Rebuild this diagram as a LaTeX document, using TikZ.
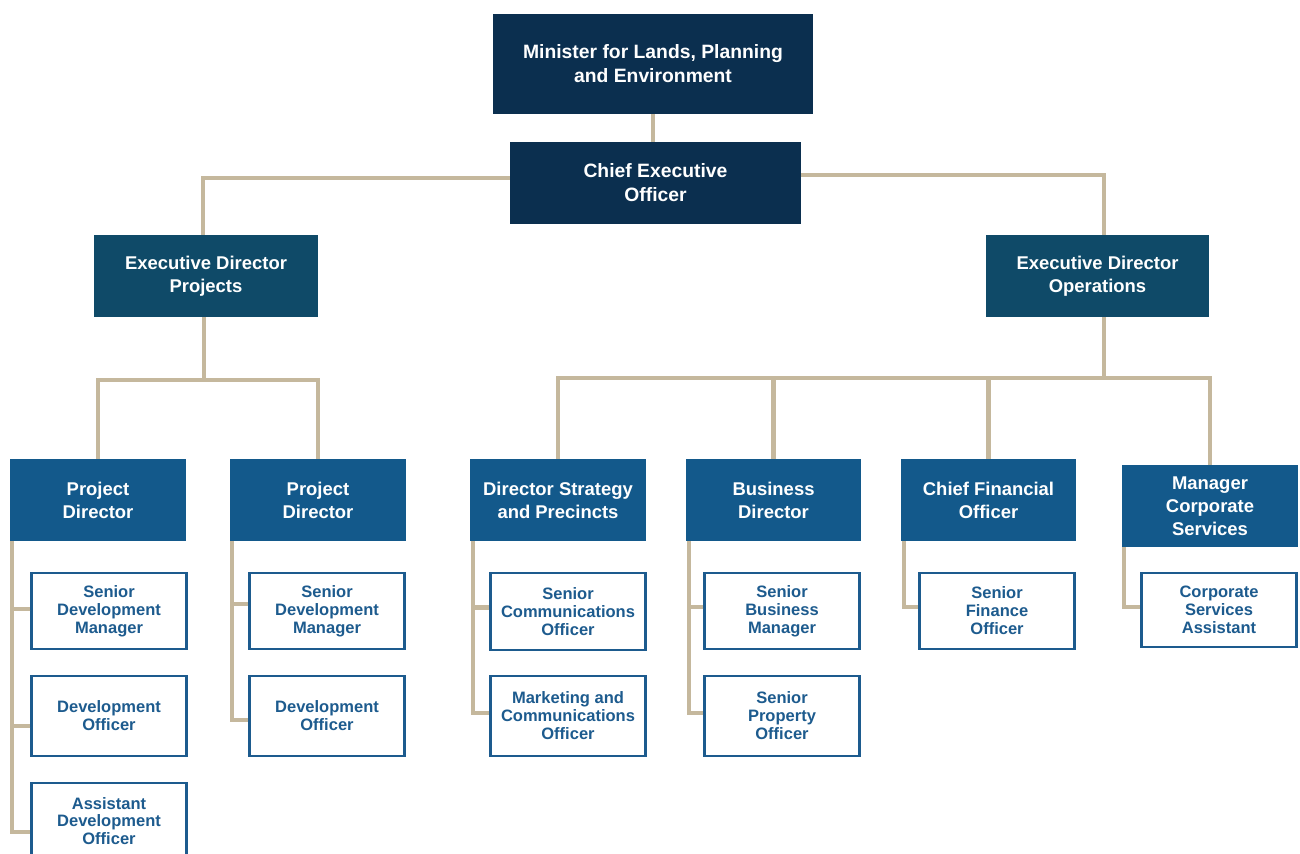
\documentclass[tikz,border=0pt]{standalone}
\usepackage{fontspec}
\setmainfont{Liberation Sans}
\usepackage{tikz}

\definecolor{navy}{HTML}{0B2F4F}
\definecolor{teal}{HTML}{0F4A68}
\definecolor{dirblue}{HTML}{13598B}
\definecolor{subblue}{HTML}{1D5B8E}
\definecolor{tan}{HTML}{C5B89D}

\begin{document}
\begin{tikzpicture}[x=0.02cm, y=-0.02cm,
    box/.style={inner sep=0pt, align=center, text=white},
    topbox/.style={box, fill=navy, font=\fontsize{11}{13.6}\selectfont\bfseries},
    execbox/.style={box, fill=teal, minimum width=4.5cm, minimum height=1.64cm, font=\fontsize{10.5}{13}\selectfont\bfseries},
    dirbox/.style={box, fill=dirblue, minimum width=3.52cm, minimum height=1.64cm, font=\fontsize{10.5}{13}\selectfont\bfseries},
    subbox/.style={draw=subblue, line width=1.4pt, fill=white, inner sep=0pt, align=center, text=subblue,
        minimum width=3.1cm, minimum height=1.52cm, font=\fontsize{9.4}{10.2}\selectfont\bfseries},
    link/.style={draw=tan, line width=2.3pt}]
    \useasboundingbox (0,0) rectangle (1300,853);

    % top of the chart
    \node[topbox, minimum width=6.4cm, minimum height=2cm] (min) at (653,64) {Minister for Lands, Planning\\and Environment};
    \node[topbox, minimum width=5.82cm, minimum height=1.64cm] (ceo) at (655.5,183) {Chief Executive\\Officer};
    \node[execbox] (edp) at (206,276) {Executive Director\\Projects};
    \node[execbox, minimum width=4.46cm] (edo) at (1097.5,276) {Executive Director\\Operations};

    % directors
    \node[dirbox] (pd1) at (98,500) {Project\\Director};
    \node[dirbox] (pd2) at (318,500) {Project\\Director};
    \node[dirbox] (dsp) at (558,500) {Director Strategy\\and Precincts};
    \node[dirbox, minimum width=3.5cm] (bd) at (773.5,500) {Business\\Director};
    \node[dirbox, minimum width=3.5cm] (cfo) at (988.5,500) {Chief Financial\\Officer};
    \node[dirbox] (mcs) at (1210,506) {Manager\\Corporate\\Services};

    % officers
    \node[subbox] (sdm1) at (109,611) {Senior\\Development\\Manager};
    \node[subbox, minimum height=1.6cm] (do1) at (109,716) {Development\\Officer};
    \node[subbox] (ado1) at (109,821) {Assistant\\Development\\Officer};
    \node[subbox] (sdm2) at (327,611) {Senior\\Development\\Manager};
    \node[subbox, minimum height=1.6cm] (do2) at (327,716) {Development\\Officer};
    \node[subbox, minimum height=1.54cm] (sco) at (568,611.5) {Senior\\Communications\\Officer};
    \node[subbox, minimum height=1.6cm] (mco) at (568,716) {Marketing and\\Communications\\Officer};
    \node[subbox] (sbm) at (782,611) {Senior\\Business\\Manager};
    \node[subbox, minimum height=1.6cm] (spo) at (782,716) {Senior\\Property\\Officer};
    \node[subbox] (sfo) at (997,611) {Senior\\Finance\\Officer};
    \node[subbox, minimum height=1.48cm] (csa) at (1219,610) {Corporate\\Services\\Assistant};

    % upper links
    \draw[link] (min.south) -- (min.south |- ceo.north);
    \draw[link] ([yshift=0.1cm]ceo.west) -| ([xshift=-0.06cm]edp.north);
    \draw[link] ([yshift=0.16cm]ceo.east) -| ([xshift=0.13cm]edo.north);

    \coordinate (pj) at (204,380);
    \coordinate (oj) at (1104,378);
    \draw[link] (pj |- edp.south) -- (pj);
    \draw[link] (pd1.north) |- (pj) -| (pd2.north);
    \draw[link] (oj |- edo.south) -- (oj);
    \draw[link] (dsp.north) |- (oj) -| (mcs.north);
    \draw[link] (bd.north) -- (bd.north |- oj);
    \draw[link] (cfo.north) -- (cfo.north |- oj);

    % trunks down to the officers
    \coordinate (t1) at ([xshift=0.04cm]pd1.south west);
    \coordinate (t2) at ([xshift=0.04cm]pd2.south west);
    \coordinate (t3) at ([xshift=0.06cm]dsp.south west);
    \coordinate (t4) at ([xshift=0.06cm]bd.south west);
    \coordinate (t5) at ([xshift=0.06cm]cfo.south west);
    \coordinate (t6) at ([xshift=0.04cm]mcs.south west);

    \draw[link] (t1) |- ([yshift=-0.22cm]ado1.west);
    \draw[link] ([yshift=0.04cm]sdm1.west) -- ([yshift=0.04cm]sdm1.west -| t1);
    \draw[link] ([yshift=-0.2cm]do1.west) -- ([yshift=-0.2cm]do1.west -| t1);

    \draw[link] (t2) |- ([yshift=-0.08cm]do2.west);
    \draw[link] ([yshift=0.14cm]sdm2.west) -- ([yshift=0.14cm]sdm2.west -| t2);

    \draw[link] (t3) |- ([yshift=0.06cm]mco.west);
    \draw[link] ([yshift=0.08cm]sco.west) -- ([yshift=0.08cm]sco.west -| t3);

    \draw[link] (t4) |- ([yshift=0.06cm]spo.west);
    \draw[link] ([yshift=0.08cm]sbm.west) -- ([yshift=0.08cm]sbm.west -| t4);

    \draw[link] (t5) |- ([yshift=0.08cm]sfo.west);
    \draw[link] (t6) |- ([yshift=0.06cm]csa.west);
\end{tikzpicture}
\end{document}
